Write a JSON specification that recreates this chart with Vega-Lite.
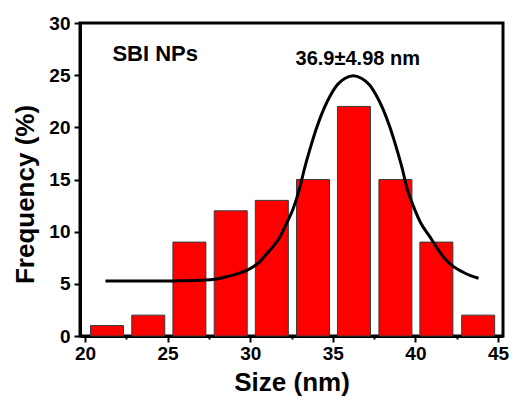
{
  "$schema": "https://vega.github.io/schema/vega-lite/v6.json",
  "width": 423,
  "height": 313,
  "autosize": {"type": "none"},
  "padding": {"left": 80, "top": 23, "right": 14, "bottom": 63},
  "background": "white",
  "config": {
    "view": {"stroke": "black", "strokeWidth": 3},
    "font": "Liberation Sans"
  },
  "datasets": {
    "bars": [
      {"size": 21.33, "freq": 1},
      {"size": 23.83, "freq": 2},
      {"size": 26.32, "freq": 9},
      {"size": 28.82, "freq": 12},
      {"size": 31.31, "freq": 13},
      {"size": 33.8, "freq": 15},
      {"size": 36.28, "freq": 22},
      {"size": 38.79, "freq": 15},
      {"size": 41.27, "freq": 9},
      {"size": 43.8, "freq": 2}
    ],
    "fit": [
      {"x": 21.24, "y": 5.27}, {"x": 22, "y": 5.27}, {"x": 23, "y": 5.27}, {"x": 24, "y": 5.27},
      {"x": 25, "y": 5.27}, {"x": 26, "y": 5.3}, {"x": 27, "y": 5.35}, {"x": 27.87, "y": 5.43},
      {"x": 28.5, "y": 5.65}, {"x": 29.2, "y": 5.95}, {"x": 29.85, "y": 6.33}, {"x": 30.5, "y": 7.0},
      {"x": 31.03, "y": 7.93}, {"x": 31.4, "y": 8.6}, {"x": 31.81, "y": 9.52}, {"x": 32.2, "y": 10.8},
      {"x": 32.6, "y": 12.2}, {"x": 33.0, "y": 14.2}, {"x": 33.29, "y": 16.07}, {"x": 33.69, "y": 18.3},
      {"x": 34.08, "y": 20.22}, {"x": 34.47, "y": 21.82}, {"x": 34.87, "y": 23.1}, {"x": 35.26, "y": 24.06},
      {"x": 35.75, "y": 24.7}, {"x": 36.24, "y": 24.95}, {"x": 36.73, "y": 24.7}, {"x": 37.23, "y": 24.06},
      {"x": 37.62, "y": 23.1}, {"x": 38.02, "y": 21.82}, {"x": 38.41, "y": 20.22}, {"x": 38.8, "y": 18.3},
      {"x": 39.2, "y": 16.07}, {"x": 39.49, "y": 14.16}, {"x": 39.89, "y": 12.4}, {"x": 40.3, "y": 10.9},
      {"x": 40.87, "y": 9.52}, {"x": 41.35, "y": 8.35}, {"x": 41.85, "y": 7.28}, {"x": 42.35, "y": 6.6},
      {"x": 42.84, "y": 6.16}, {"x": 43.3, "y": 5.8}, {"x": 43.82, "y": 5.53}
    ],
    "sample": [{"x": 24.25, "y": 26.36, "label": "SBI NPs"}],
    "fitlabel": [{"x": 36.51, "y": 25.97, "label": "36.9±4.98 nm"}]
  },
  "layer": [
    {
      "data": {"name": "bars"},
      "mark": {"type": "bar", "width": 33, "fill": "#ff0000", "stroke": "#3a3a3a", "strokeWidth": 1},
      "encoding": {
        "x": {
          "field": "size", "type": "quantitative",
          "scale": {"domain": [20, 45], "nice": false, "zero": false},
          "axis": {
            "values": [20, 22.5, 25, 27.5, 30, 32.5, 35, 37.5, 40, 42.5, 45],
            "labelExpr": "datum.value % 5 === 0 ? datum.label : ''",
            "tickSize": {"condition": {"test": "datum.value % 5 === 0", "value": 6}, "value": 3},
            "tickColor": "black", "tickWidth": 2,
            "domainColor": "black", "domainWidth": 3,
            "grid": false,
            "labelFont": "Liberation Sans", "labelFontWeight": "bold", "labelFontSize": 19,
            "labelColor": "black", "labelPadding": 2, "labelFlush": false, "labelOverlap": false,
            "title": "Size (nm)",
            "titleFont": "Liberation Sans", "titleFontSize": 26, "titleFontWeight": "bold", "titleColor": "black",
            "titleX": 211.5, "titleY": 54, "titleBaseline": "alphabetic", "titleAlign": "center"
          }
        },
        "y": {
          "field": "freq", "type": "quantitative",
          "scale": {"domain": [0, 30], "nice": false},
          "axis": {
            "values": [0, 5, 10, 15, 20, 25, 30],
            "tickSize": 6, "tickColor": "black", "tickWidth": 2,
            "domainColor": "black", "domainWidth": 3,
            "grid": false,
            "labelFont": "Liberation Sans", "labelFontWeight": "bold", "labelFontSize": 19,
            "labelColor": "black", "labelPadding": 4, "labelFlush": false, "labelOverlap": false,
            "title": "Frequency (%)",
            "titleFont": "Liberation Sans", "titleFontSize": 26, "titleFontWeight": "bold", "titleColor": "black",
            "titleAngle": 270, "titleX": -47, "titleY": 171, "titleBaseline": "alphabetic", "titleAlign": "center"
          }
        }
      }
    },
    {
      "data": {"name": "fit"},
      "mark": {"type": "line", "color": "black", "strokeWidth": 3, "interpolate": "monotone"},
      "encoding": {
        "x": {"field": "x", "type": "quantitative"},
        "y": {"field": "y", "type": "quantitative"}
      }
    },
    {
      "data": {"name": "sample"},
      "mark": {"type": "text", "font": "Liberation Sans", "fontWeight": "bold", "fontSize": 22, "align": "center", "baseline": "alphabetic", "color": "black"},
      "encoding": {
        "x": {"field": "x", "type": "quantitative"},
        "y": {"field": "y", "type": "quantitative"},
        "text": {"field": "label"}
      }
    },
    {
      "data": {"name": "fitlabel"},
      "mark": {"type": "text", "font": "Liberation Sans", "fontWeight": "bold", "fontSize": 20, "align": "center", "baseline": "alphabetic", "color": "black"},
      "encoding": {
        "x": {"field": "x", "type": "quantitative"},
        "y": {"field": "y", "type": "quantitative"},
        "text": {"field": "label"}
      }
    }
  ]
}
